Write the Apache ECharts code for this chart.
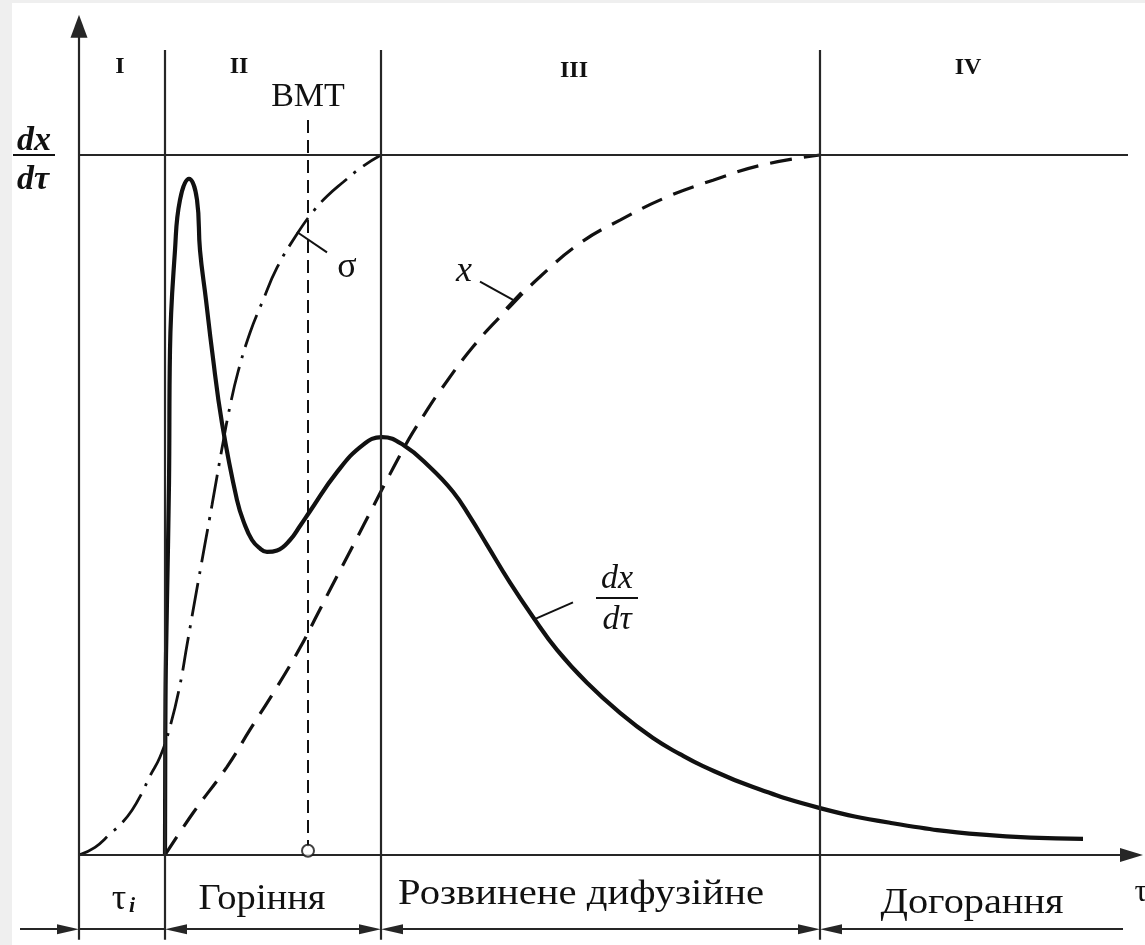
<!DOCTYPE html>
<html>
<head>
<meta charset="utf-8">
<script src="https://cdn.jsdelivr.net/npm/echarts@6/dist/echarts.min.js"></script>
<style>
html, body { margin: 0; padding: 0; background: #fff; }
#main { width: 1145px; height: 945px; }
</style>
</head>
<body>
<div id="main"></div>
<script>
// phase boundaries on the time axis, and the BMT position
var phaseBounds = [8.6, 30.2, 74.1];
var bmtX = 22.9;

// dx/dτ – heat release rate (solid)
var rateCurve = [
    [8.6, 0], [8.65, 22.1], [8.8, 36.4], [9.0, 53.1], [9.1, 72.1], [9.6, 86.4],
    [10.1, 93.6], [11.0, 96.6], [11.8, 93.6], [12.1, 86.4], [12.7, 79.3], [13.3, 72.1],
    [14.3, 61.7], [15.8, 50.7], [16.6, 47.1], [17.3, 45.0], [18.0, 43.9], [18.8, 43.3],
    [19.8, 43.5], [21.1, 45.0], [22.1, 47.0], [23.1, 49.1], [25.8, 54.7], [28.4, 58.6],
    [30.3, 59.7], [32.4, 58.6], [35.1, 55.4], [37.4, 51.9], [39.1, 48.3], [40.8, 44.3],
    [43.1, 38.9], [45.4, 34.0], [47.8, 29.3], [50.8, 24.6], [54.1, 20.3], [57.4, 16.7],
    [60.1, 14.4], [62.4, 12.7], [67.4, 9.7], [74.1, 6.7], [81.1, 4.6], [90.4, 2.9],
    [100.4, 2.3]
];

// σ (dash-dot)
var sigmaCurve = [
    [0, 0], [1.6, 1.1], [3.1, 3.0], [4.3, 4.6], [5.3, 6.4], [6.3, 8.9], [7.1, 11.3],
    [8.1, 14.0], [9.1, 18.3], [10.1, 24.3], [10.8, 30.0], [11.9, 38.9], [13.3, 50.0],
    [14.3, 58.1], [15.1, 64.1], [15.9, 69.0], [17.1, 74.6], [18.3, 78.9], [19.8, 83.9],
    [21.8, 88.7], [23.4, 91.9], [24.8, 94.1], [26.4, 96.1], [28.3, 98.3], [30.2, 100]
];

// x – burned fraction (dashed)
var burnedCurve = [
    [8.6, 0], [11.4, 6.0], [14.8, 12.6], [17.1, 17.9], [19.8, 24.0], [22.1, 29.6],
    [23.6, 33.7], [25.1, 37.9], [26.6, 42.0], [27.8, 45.3], [29.1, 48.9], [30.8, 53.6],
    [32.4, 57.9], [33.4, 60.4], [34.6, 63.1], [36.1, 66.3], [39.4, 72.6], [42.8, 77.9],
    [46.1, 82.6], [50.1, 87.4], [54.1, 90.7], [58.8, 94.0], [63.4, 96.4], [68.4, 98.6],
    [74.1, 100]
];

// leader lines from the curve names to the curves
var sigmaLeader = [[21.8, 89.0], [24.8, 86.1]];
var burnedLeader = [[40.1, 81.9], [43.4, 79.3]];
var burnedTick = [[42.7, 78.1], [44.2, 80.4]];
var rateLeader = [[45.4, 33.6], [49.4, 36.1]];

var phaseNumerals = ['I', 'II', 'III', 'IV'];
var numeralPos = [[4.1, 112.6], [16.0, 112.6], [49.5, 112.1], [88.9, 112.4]];
var phaseNames = ['Горіння', 'Розвинене дифузійне', 'Догорання'];
var phaseNamePos = [[18.3, -6.4], [50.2, -5.7], [89.3, -6.9]];
var phaseNameStretch = [1.07, 1.13, 1.12];

var xMin = -6.7, xMax = 106.6, yMin = -12.5, yMax = 120;
var topY = 100, xEnd = 104.9, sepTop = 115, sepBottom = -12.1, rowY = -10.6;

var ink = '#111';
var thin = '#262626';
var serif = '"Liberation Serif", "DejaVu Serif", serif';

var chart = echarts.init(document.getElementById('main'));

// structure lines: axes, separators, top line, dimension row
var arrowSmall = [10, 22];
var frame = [];
frame.push([{ coord: [0, sepBottom] }, { coord: [0, yMax - 1.6], symbol: 'triangle', symbolSize: [17, 23] }]);
frame.push([{ coord: [0, 0] }, { coord: [106.4 - 1.15, 0], symbol: 'triangle', symbolSize: [14, 23] }]);
frame.push([{ coord: [0, topY] }, { coord: [xEnd, topY] }]);
phaseBounds.forEach(function (b) {
    frame.push([{ coord: [b, sepBottom] }, { coord: [b, sepTop] }]);
});
// dimension row with arrows
var ah = 1.1;
var rowStops = [0].concat(phaseBounds);
frame.push([{ coord: [-5.9, rowY] }, { coord: [-ah, rowY], symbol: 'triangle', symbolSize: arrowSmall }]);
frame.push([{ coord: [0, rowY] }, { coord: [rowStops[1], rowY] }]);
for (var i = 1; i < rowStops.length - 1; i++) {
    frame.push([
        { coord: [rowStops[i] + ah, rowY], symbol: 'triangle', symbolSize: arrowSmall },
        { coord: [rowStops[i + 1] - ah, rowY], symbol: 'triangle', symbolSize: arrowSmall }
    ]);
}
frame.push([{ coord: [phaseBounds[2] + ah, rowY], symbol: 'triangle', symbolSize: arrowSmall }, { coord: [104.4, rowY] }]);

function leader(data) {
    return {
        type: 'line', data: data, symbol: 'none', silent: true,
        lineStyle: { color: ink, width: 2 }, z: 3
    };
}

var option = {
    animation: false,
    backgroundColor: '#fff',
    grid: { left: 12, right: 0, top: 15, bottom: 2.5 },
    xAxis: { type: 'value', min: xMin, max: xMax, show: false },
    yAxis: { type: 'value', min: yMin, max: yMax, show: false },
    series: [
        {
            type: 'line', name: 'dx/dτ', data: rateCurve, smooth: 0.45, symbol: 'none',
            lineStyle: { color: ink, width: 4.2 }, z: 4,
            markLine: {
                silent: true, animation: false, symbol: ['none', 'none'],
                label: { show: false },
                itemStyle: { color: ink },
                lineStyle: { color: thin, width: 2.2, type: 'solid' },
                emphasis: { disabled: true },
                data: frame
            }
        },
        {
            type: 'line', name: 'σ', data: sigmaCurve, smooth: 0.45, symbol: 'none',
            lineStyle: { color: ink, width: 2.8, type: [34, 9, 3, 9] }, z: 3
        },
        {
            type: 'line', name: 'x', data: burnedCurve, smooth: 0.45, symbol: 'none',
            lineStyle: { color: ink, width: 3.2, type: [22, 12] }, z: 3
        },
        {
            type: 'line', name: 'BMT', data: [[bmtX, 105], [bmtX, 1.2]], symbol: 'none',
            lineStyle: { color: ink, width: 2, type: [13, 7] }, z: 2
        },
        {
            type: 'scatter', data: [[bmtX, 0.6]], symbol: 'emptyCircle', symbolSize: 12,
            itemStyle: { color: ink, borderColor: ink, borderWidth: 2.5 }, z: 5, silent: true
        },
        leader(sigmaLeader),
        leader(burnedLeader),
        leader(burnedTick),
        leader(rateLeader)
    ]
};
chart.setOption(option);

function px(p) { return chart.convertToPixel({ gridIndex: 0 }, p); }

function label(text, p, size, extra, sx) {
    var q = px(p);
    var style = {
        text: text, x: 0, y: 0, fill: ink,
        fontFamily: serif, fontSize: size,
        align: 'center', verticalAlign: 'middle'
    };
    for (var k in extra) style[k] = extra[k];
    return { type: 'text', x: q[0], y: q[1], scaleX: sx || 1, style: style, z: 10 };
}

function bar(p1, p2) {
    var a = px(p1), b = px(p2);
    return { type: 'line', shape: { x1: a[0], y1: a[1], x2: b[0], y2: b[1] }, style: { stroke: ink, lineWidth: 2 }, z: 10 };
}

var g = [
    { type: 'rect', shape: { x: 0, y: 0, width: 12, height: 945 }, style: { fill: '#efefef' }, z: 0 },
    { type: 'rect', shape: { x: 0, y: 0, width: 1145, height: 3 }, style: { fill: '#efefef' }, z: 0 }
];
phaseNumerals.forEach(function (t, i) {
    g.push(label(t, numeralPos[i], 24, { fontWeight: 'bold' }));
});
phaseNames.forEach(function (t, i) {
    g.push(label(t, phaseNamePos[i], 36, {}, phaseNameStretch[i]));
});
g.push(label('BMT', [bmtX, 108.3], 34));
g.push(label('σ', [26.8, 83.9], 36));
g.push(label('x', [38.5, 83.3], 36, { fontStyle: 'italic' }));
g.push(label('τ', [4.0, -6.4], 36));
g.push(label('i', [5.3, -7.3], 22, { fontStyle: 'italic', fontWeight: 'bold' }));
g.push(label('τ', [106.2, -5.4], 32));
// axis label dx/dτ
g.push(label('dx', [-4.5, 102.0], 34, { fontStyle: 'italic', fontWeight: 'bold' }));
g.push(bar([-6.6, 100], [-2.4, 100]));
g.push(label('dτ', [-4.6, 96.4], 34, { fontStyle: 'italic', fontWeight: 'bold' }));
// curve label dx/dτ
g.push(label('dx', [53.8, 39.4], 34, { fontStyle: 'italic' }));
g.push(bar([51.7, 36.7], [55.9, 36.7]));
g.push(label('dτ', [53.8, 33.6], 34, { fontStyle: 'italic' }));

chart.setOption({ graphic: { elements: g } });
</script>
</body>
</html>
